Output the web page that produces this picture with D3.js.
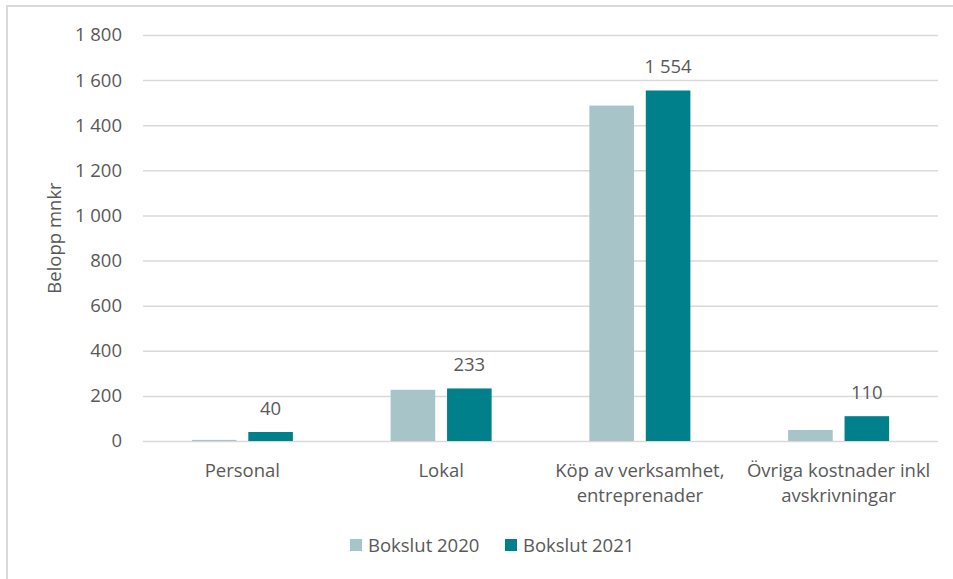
<!DOCTYPE html>
<html><head><meta charset="utf-8">
<script src="https://cdn.jsdelivr.net/npm/d3@7"></script>
<style>
html,body{margin:0;padding:0;background:#fff;}
svg{display:block;font-family:"Open Sans",sans-serif;}
</style></head>
<body><svg id="c" width="953" height="579"></svg>
<script>
const categories = [["Personal"], ["Lokal"], ["Köp av verksamhet,", "entreprenader"], ["Övriga kostnader inkl", "avskrivningar"]];
const seriesNames = ["Bokslut 2020", "Bokslut 2021"];
const values2020 = [5, 227, 1487, 49];
const values2021 = [40, 233, 1554, 110];
const labels2021 = ["40", "233", "1 554", "110"];
const yTicks = [0, 200, 400, 600, 800, 1000, 1200, 1400, 1600, 1800];
const colors = ["#A7C4C9", "#00808A"];

(function(){
const svg = d3.select("#c");
const text = "#595959";
const fs = "18.5px";
svg.append("path").attr("d","M7,579V6H953").attr("fill","none").attr("stroke","#d9d9d9").attr("stroke-width",2);

const pL = 143, pR = 938, pT = 35, pB = 441;
const y = d3.scaleLinear().domain([0, 1800]).range([pB, pT]);
const x0 = d3.scaleBand().domain(d3.range(categories.length)).range([pL, pR]).paddingInner(0).paddingOuter(0);
const x1 = d3.scaleBand().domain([0,1]).range([0, 101]).paddingInner(0.21);
const groupOffset = (x0.bandwidth() - 101) / 2;

const yAxis = d3.axisLeft(y).tickValues(yTicks).tickSize(-(pR-pL)).tickPadding(21)
  .tickFormat(d => d3.format(",")(d).replace(/,/g, " "));
const ga = svg.append("g").attr("transform", `translate(${pL},0)`).call(yAxis);
ga.select(".domain").remove();
ga.selectAll(".tick line").attr("stroke", "#d9d9d9").attr("stroke-width", 1.5);
ga.selectAll(".tick text").attr("fill", text).style("font-size", fs).style("font-family", "Open Sans");

svg.append("text").attr("transform", `translate(61,238) rotate(-90)`).attr("text-anchor","middle")
  .attr("fill", text).style("font-size", fs).text("Belopp mnkr");

const series = [values2020, values2021];
series.forEach((vals, s) => {
  svg.append("g").selectAll("rect").data(vals).join("rect")
    .attr("x", (d,i) => x0(i) + groupOffset + x1(s))
    .attr("width", x1.bandwidth())
    .attr("y", d => y(d))
    .attr("height", d => y(0) - y(d))
    .attr("fill", colors[s]);
});

svg.append("g").selectAll("text").data(values2021).join("text")
  .attr("x", (d,i) => x0(i) + groupOffset + x1(1) + x1.bandwidth()/2)
  .attr("y", d => y(d) - 17)
  .attr("text-anchor","middle").attr("fill", text).style("font-size", fs)
  .text((d,i) => labels2021[i]);

const cl = svg.append("g").selectAll("text").data(categories).join("text")
  .attr("x", (d,i) => x0(i) + x0.bandwidth()/2)
  .attr("y", 477).attr("text-anchor","middle").attr("fill", text).style("font-size", fs);
cl.selectAll("tspan").data(d => d).join("tspan")
  .attr("x", function(){ return this.parentNode.getAttribute("x"); })
  .attr("dy", (d,i) => i === 0 ? 0 : 25).text(d => d);

const lg = svg.append("g");
const legX = [350, 505];
seriesNames.forEach((n, i) => {
  lg.append("rect").attr("x", legX[i]).attr("y", 539).attr("width", 12).attr("height", 12).attr("fill", colors[i]);
  lg.append("text").attr("x", legX[i] + 18).attr("y", 552).attr("fill", text).style("font-size", fs).text(n);
});
})();
</script></body></html>
